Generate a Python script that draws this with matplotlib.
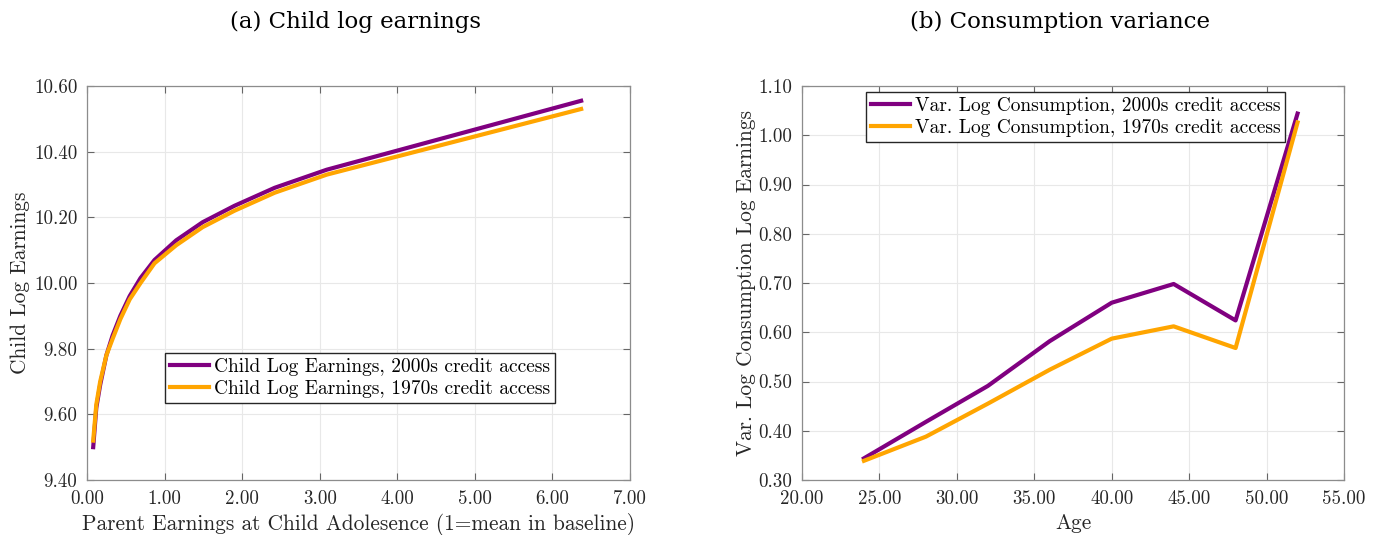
import matplotlib
matplotlib.use("Agg")
import matplotlib.pyplot as plt

plt.rcParams['font.family'] = 'serif'
plt.rcParams['font.serif'] = ['cmr10']
plt.rcParams['mathtext.fontset'] = 'cm'
plt.rcParams['axes.formatter.use_mathtext'] = True

# Panel (a) data
parent_earn = [0.08, 0.12, 0.17, 0.25, 0.33, 0.43, 0.55, 0.69, 0.87, 1.15, 1.49, 1.90, 2.42, 3.09, 6.37]
child_2000s = [9.50, 9.62, 9.69, 9.78, 9.84, 9.90, 9.96, 10.015, 10.07, 10.13, 10.185, 10.235, 10.29, 10.345, 10.555]
child_1970s = [9.52, 9.63, 9.70, 9.78, 9.83, 9.89, 9.95, 10.00, 10.06, 10.115, 10.17, 10.22, 10.275, 10.33, 10.53]

# Panel (b) data
ages = [24, 28, 32, 36, 40, 44, 48, 52]
var_2000s = [0.344, 0.418, 0.491, 0.582, 0.660, 0.698, 0.624, 1.044]
var_1970s = [0.339, 0.388, 0.455, 0.524, 0.587, 0.612, 0.568, 1.026]

left_xticks = [0, 1, 2, 3, 4, 5, 6, 7]
left_yticks = [9.4, 9.6, 9.8, 10.0, 10.2, 10.4, 10.6]
right_xticks = [20, 25, 30, 35, 40, 45, 50, 55]
right_yticks = [0.3, 0.4, 0.5, 0.6, 0.7, 0.8, 0.9, 1.0, 1.1]

PURPLE = '#800080'
ORANGE = '#FFA500'
TXT = '#262626'

W, H = 1382, 535
fig = plt.figure(figsize=(W / 100, H / 100), dpi=100)

def make_ax(x0, x1, y0, y1):
    return fig.add_axes([x0 / W, 1 - y1 / H, (x1 - x0) / W, (y1 - y0) / H])

ax1 = make_ax(87, 630, 86, 480)
ax2 = make_ax(802, 1344, 86, 480)

def style(ax, xt, yt):
    ax.set_xticks(xt)
    ax.set_yticks(yt)
    ax.set_xticklabels([f"{v:.2f}" for v in xt])
    ax.set_yticklabels([f"{v:.2f}" for v in yt])
    ax.set_xlim(xt[0], xt[-1])
    ax.set_ylim(yt[0], yt[-1])
    ax.grid(True, color='#e8e8e8', linewidth=0.8)
    ax.set_axisbelow(True)
    ax.tick_params(direction='in', top=True, right=True, length=5, width=0.8,
                   color='#666666', labelsize=13.6, labelcolor=TXT, pad=7)
    for s in ax.spines.values():
        s.set_color('#8c8c8c')
        s.set_linewidth(0.9)

leg_kw = dict(loc='upper left', fontsize=14.0, frameon=True, fancybox=False,
              edgecolor=TXT, framealpha=1, handlelength=2.0, handletextpad=0.25,
              borderaxespad=0, borderpad=0.25, labelspacing=0.2)

ax1.plot(parent_earn, child_2000s, color=PURPLE, lw=3, label='Child Log Earnings, 2000s credit access')
ax1.plot(parent_earn, child_1970s, color=ORANGE, lw=3, label='Child Log Earnings, 1970s credit access')
style(ax1, left_xticks, left_yticks)
ax1.set_xlabel('Parent Earnings at Child Adolesence (1=mean in baseline)', fontsize=15.4, color=TXT, labelpad=4)
ax1.set_ylabel('Child Log Earnings', fontsize=15.4, color=TXT, labelpad=3)
ax1.legend(bbox_to_anchor=(0.144, 0.322), **leg_kw)

ax2.plot(ages, var_2000s, color=PURPLE, lw=3, label='Var. Log Consumption, 2000s credit access')
ax2.plot(ages, var_1970s, color=ORANGE, lw=3, label='Var. Log Consumption, 1970s credit access')
style(ax2, right_xticks, right_yticks)
ax2.set_xlabel('Age', fontsize=15.4, color=TXT, labelpad=4)
ax2.set_ylabel('Var. Log Consumption Log Earnings', fontsize=15.4, color=TXT, labelpad=2)
ax2.legend(bbox_to_anchor=(0.118, 0.985), **leg_kw)

fig.text(355 / W, 1 - 22 / H, '(a) Child log earnings', ha='center', va='center',
         fontsize=16.5, family='DejaVu Serif')
fig.text(1060 / W, 1 - 22 / H, '(b) Consumption variance', ha='center', va='center',
         fontsize=16.5, family='DejaVu Serif')

fig.savefig('out.png', dpi=100)
